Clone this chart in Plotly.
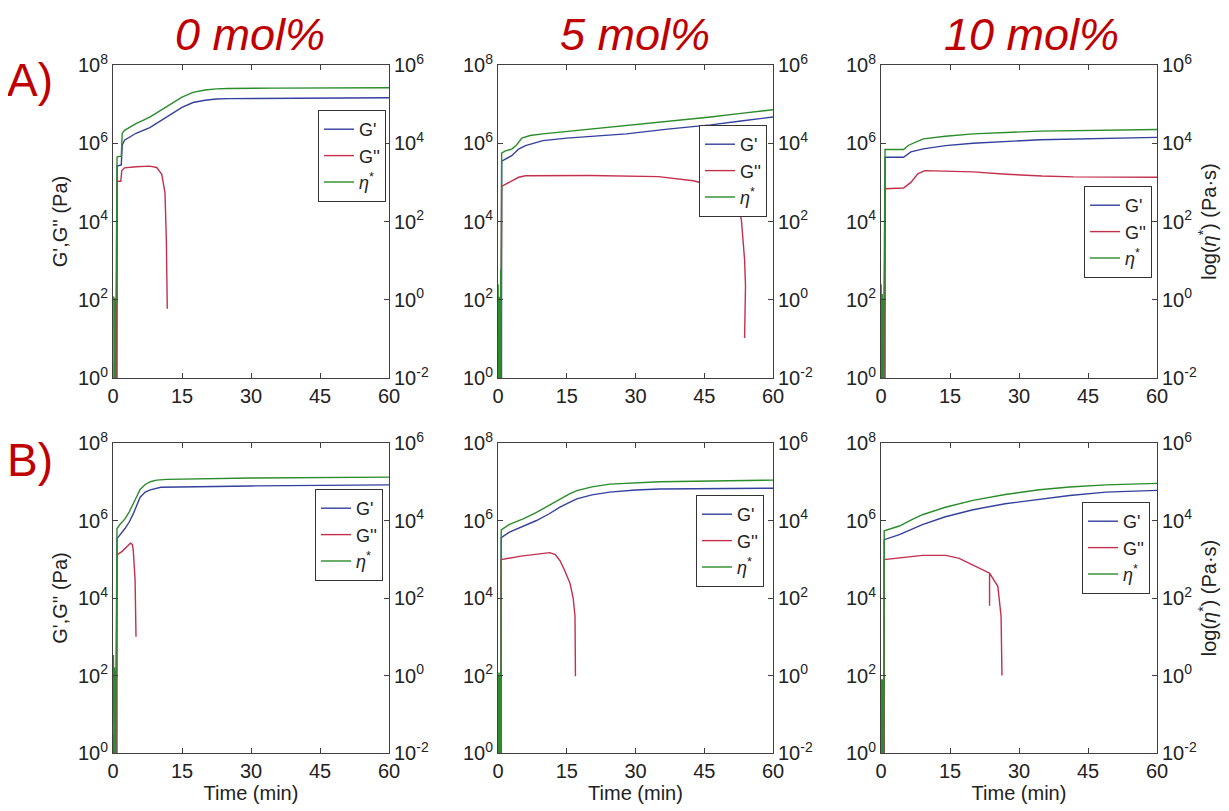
import plotly.graph_objects as go

# ---------------- data ----------------
panel_titles = ["0 mol%", "5 mol%", "10 mol%"]
row_labels = ["A)", "B)"]
x_ticks = [0, 15, 30, 45, 60]
left_ticks = [1e0, 1e2, 1e4, 1e6, 1e8]
left_ticktext = ["10<sup>0</sup>", "10<sup>2</sup>", "10<sup>4</sup>", "10<sup>6</sup>", "10<sup>8</sup>"]
right_ticks = [1e-2, 1e0, 1e2, 1e4, 1e6]
right_ticktext = ["10<sup>-2</sup>", "10<sup>0</sup>", "10<sup>2</sup>", "10<sup>4</sup>", "10<sup>6</sup>"]

# early noisy part of the signal (min)
noise_t = [0.02, 0.06, 0.10, 0.14, 0.18, 0.22, 0.26, 0.30, 0.34, 0.38, 0.42, 0.46, 0.50, 0.54, 0.58, 0.62, 0.66]

# ---- A) 0 mol% ----
a0_noise_eta = [1.1, 0.004, 0.9, 0.005, 1.2, 0.003, 0.8, 0.006, 1.0, 0.004, 1.1, 0.005, 0.9, 0.003, 1.0, 0.006, 0.8]
a0_noise_gpp = [0.3, 0.2, 0.3, 0.2, 0.3, 0.2, 0.3, 2.4, 0.2, 2.6, 0.3, 2.2, 0.2, 2.5, 0.3, 2.0, 0.3]
a0_eta_t = [0.88, 0.9, 1.8, 2.0, 2.5, 5, 8, 10, 12.4, 15, 17.4, 20, 22.5, 25, 35, 60]
a0_eta = [4400, 4470, 4680, 17800, 21400, 31600, 46800, 66100, 1.0e5, 1.51e5, 2.0e5, 2.29e5, 2.45e5, 2.51e5, 2.57e5, 2.63e5]
a0_gp_t = [0.86, 0.9, 1.8, 2.0, 2.5, 5, 8, 10, 12.4, 15, 17.4, 20, 22.5, 25, 60]
a0_gp = [0.5, 2.6e5, 2.8e5, 8.9e5, 1.2e6, 1.8e6, 2.5e6, 3.5e6, 5.5e6, 8.3e6, 1.1e7, 1.26e7, 1.35e7, 1.38e7, 1.45e7]
a0_gpp_t = [0.9, 1.7, 1.9, 2.5, 5, 8, 9.5, 10.6, 11.3, 11.6, 11.8]
a0_gpp = [1.07e5, 1.07e5, 2.0e5, 2.35e5, 2.5e5, 2.6e5, 2.4e5, 1.6e5, 5.5e4, 3.2e3, 59]

# ---- A) 5 mol% ----
a5_noise_eta = [2.5, 0.005, 1.8, 0.004, 1.5, 0.006, 1.2, 0.003, 1.0, 0.005, 0.8, 0.004, 1.0, 0.003, 5.9, 0.005, 0.6]
a5_noise_gpp = [4.0, 0.3, 3.8, 0.2, 4.2, 0.3, 3.5, 0.2, 4.0, 0.5, 3.6, 0.3, 4.1, 0.2, 3.9, 0.4, 3.7]
a5_eta_t = [0.8, 1.5, 3.0, 4.0, 5.2, 7, 9.8, 15, 20, 28, 37, 46.4, 53, 60]
a5_eta = [5600, 6300, 7100, 8900, 13500, 15800, 17400, 20000, 22900, 28000, 36000, 47000, 58000, 72000]
a5_gp_t = [0.76, 0.8, 3.0, 4.5, 6, 9.8, 15, 20, 28, 37, 46.4, 53, 60]
a5_gp = [0.5, 3.5e5, 4.8e5, 7.1e5, 8.7e5, 1.17e6, 1.35e6, 1.5e6, 1.74e6, 2.3e6, 2.95e6, 3.7e6, 4.7e6]
a5_gpp_t = [0.8, 3, 4.5, 6, 20, 35, 42.6, 49.9, 52, 52.6, 52.4, 53.1, 53.4, 53.2, 53.8, 54.0, 53.8]
a5_gpp = [7.9e4, 1.1e5, 1.35e5, 1.48e5, 1.5e5, 1.4e5, 1.1e5, 6.6e4, 3.6e4, 1.5e4, 2.5e4, 1.1e4, 4.0e3, 8.0e3, 1.07e3, 224, 10.5]

# ---- A) 10 mol% ----
a10_noise_eta = [2.5, 0.004, 1.6, 0.005, 1.2, 0.003, 1.4, 0.006, 1.0, 0.004, 1.3, 0.005, 1.1, 0.003, 0.9, 0.005, 1.2]
a10_noise_gpp = [0.3, 0.2, 2.6, 0.3, 2.8, 0.2, 2.5, 0.3, 2.7, 0.2, 2.4, 0.3, 2.8, 0.2, 2.6, 0.3, 2.5]
a10_eta_t = [0.88, 4.9, 6, 9.2, 14, 20, 34.6, 60]
a10_eta = [6900, 6900, 8900, 12900, 15100, 17400, 20400, 22400]
a10_gp_t = [0.86, 0.9, 4.9, 6.5, 9.2, 14, 20, 34.6, 60]
a10_gp = [0.5, 4.4e5, 4.4e5, 6.0e5, 7.2e5, 8.7e5, 1.0e6, 1.23e6, 1.41e6]
a10_gpp_t = [0.9, 4.9, 6.5, 8, 9.5, 20, 27.3, 35, 41.8, 60]
a10_gpp = [6.9e4, 7.2e4, 1.0e5, 1.66e5, 2.0e5, 1.86e5, 1.62e5, 1.45e5, 1.38e5, 1.35e5]

# ---- B) 0 mol% ----
b0_noise_eta = [1.5, 0.004, 3.4, 0.005, 2.0, 0.003, 1.2, 0.006, 1.6, 0.004, 1.0, 0.005, 1.3, 0.003, 0.9, 0.006, 1.1]
b0_noise_gpp = [0.3, 0.2, 3.0, 0.3, 2.8, 0.2, 3.1, 0.3, 2.6, 0.2, 2.9, 0.3, 3.0, 0.2, 2.7, 0.3, 2.8]
b0_eta_t = [0.87, 1.5, 2.6, 3.5, 4.4, 5.2, 5.9, 7.0, 8.1, 9.5, 11.7, 30, 60]
b0_eta = [6200, 7900, 11000, 16500, 27000, 44000, 63000, 85000, 1.0e5, 1.1e5, 1.15e5, 1.25e5, 1.32e5]
b0_gp_t = [0.85, 0.87, 2.6, 3.5, 4.4, 5.2, 5.9, 7.0, 8.1, 10.4, 30, 60]
b0_gp = [0.5, 3.4e5, 6.2e5, 9.0e5, 1.48e6, 2.6e6, 4.0e6, 5.4e6, 6.2e6, 7.2e6, 7.8e6, 8.3e6]
b0_gpp_t = [0.87, 2.0, 3.0, 3.8, 4.2, 4.4, 4.8, 5.0]
b0_gpp = [1.29e5, 1.6e5, 2.1e5, 2.6e5, 2.4e5, 1.74e5, 3.0e4, 1.0e3]

# ---- B) 5 mol% ----
b5_noise_eta = [1.2, 0.004, 0.9, 0.005, 1.1, 0.003, 0.8, 0.006, 1.0, 0.004, 1.2, 0.005, 0.7, 0.003, 0.9, 0.006, 0.8]
b5_noise_gpp = [0.3, 0.2, 0.3, 2.8, 0.2, 3.0, 0.3, 2.5, 0.2, 2.9, 0.3, 2.6, 0.2, 2.8, 0.3, 2.4, 0.3]
b5_eta_t = [0.7, 2.5, 5.5, 8.4, 11, 13.5, 15.5, 17.2, 20.5, 24.4, 30, 35.3, 60]
b5_eta = [5750, 7900, 11000, 16200, 24000, 36000, 48000, 59000, 74000, 87000, 95000, 1.0e5, 1.1e5]
b5_gp_t = [0.68, 0.7, 2.5, 5.5, 8.4, 11, 13.5, 15.5, 17.2, 20.5, 24.4, 30, 35.3, 60]
b5_gp = [0.5, 3.6e5, 5.0e5, 7.0e5, 1.0e6, 1.45e6, 2.2e6, 2.9e6, 3.6e6, 4.6e6, 5.4e6, 6.1e6, 6.5e6, 6.8e6]
b5_gpp_t = [0.7, 5, 11.3, 12.5, 13.5, 14.6, 15.7, 16.4, 16.8, 16.9]
b5_gpp = [9.8e4, 1.2e5, 1.48e5, 1.32e5, 9.3e4, 5.0e4, 2.4e4, 1.0e4, 3.4e3, 95]

# ---- B) 10 mol% ----
b10_noise_eta = [0.8, 0.004, 0.7, 0.005, 0.8, 0.003, 0.6, 0.006, 0.8, 0.004, 0.7, 0.005, 0.8, 0.003, 0.6, 0.006, 0.7]
b10_noise_gpp = [0.3, 0.2, 0.3, 2.2, 0.2, 2.5, 0.3, 2.4, 0.2, 2.6, 0.3, 2.3, 0.2, 2.5, 0.3, 2.2, 0.3]
b10_eta_t = [0.7, 4, 6.5, 9, 14, 20, 27, 34.4, 41, 48.9, 60]
b10_eta = [5400, 7200, 10200, 14100, 22000, 33000, 47000, 62000, 73000, 83000, 91000]
b10_gp_t = [0.68, 0.7, 4, 6.5, 9, 14, 20, 27, 34.4, 41, 48.9, 60]
b10_gp = [0.5, 3.2e5, 4.3e5, 5.8e5, 7.8e5, 1.25e6, 1.9e6, 2.7e6, 3.5e6, 4.4e6, 5.4e6, 6.0e6]
b10_gpp_t = [0.7, 9, 14.1, 17, 20, 23.6, 23.6, 23.6, 25.4, 26.1, 26.3]
b10_gpp = [9.8e4, 1.26e5, 1.26e5, 1.05e5, 7.1e4, 4.4e4, 6.3e3, 4.4e4, 2.0e4, 3.4e3, 100]

# ---------------- layout helpers ----------------
# the page body adds an 8 px offset; the figure is sized so it ends at the window edge
OFF = 8
W, H = 1229 - OFF, 811 - OFF


def px_x(p):
    return (p - OFF) / W


def px_y(p):
    return 1 - (p - OFF) / H


col_px = [(113, 389), (498, 773), (881, 1157)]
row_px = [(65, 378), (443, 753)]
legend_px = [(386, 110), (767, 125), (1152, 186), (383, 489), (764, 495), (1150, 502)]

C_GP = "#33409c"
C_GPP = "#c2304e"
C_ETA = "#2a8c2a"
AX_COL = "#404040"
TXT_COL = "#222222"
FONT = "Liberation Sans, Arial, sans-serif"

panels = [
    (a0_noise_eta, a0_noise_gpp, a0_eta_t, a0_eta, a0_gp_t, a0_gp, a0_gpp_t, a0_gpp),
    (a5_noise_eta, a5_noise_gpp, a5_eta_t, a5_eta, a5_gp_t, a5_gp, a5_gpp_t, a5_gpp),
    (a10_noise_eta, a10_noise_gpp, a10_eta_t, a10_eta, a10_gp_t, a10_gp, a10_gpp_t, a10_gpp),
    (b0_noise_eta, b0_noise_gpp, b0_eta_t, b0_eta, b0_gp_t, b0_gp, b0_gpp_t, b0_gpp),
    (b5_noise_eta, b5_noise_gpp, b5_eta_t, b5_eta, b5_gp_t, b5_gp, b5_gpp_t, b5_gpp),
    (b10_noise_eta, b10_noise_gpp, b10_eta_t, b10_eta, b10_gp_t, b10_gp, b10_gpp_t, b10_gpp),
]

fig = go.Figure()
layout = dict(
    width=W, height=H, autosize=False,
    margin=dict(l=0, r=0, t=0, b=0, pad=0, autoexpand=False),
    paper_bgcolor="white", plot_bgcolor="white",
    font=dict(family=FONT, size=20, color=TXT_COL),
    annotations=[],
)

for i, (n_eta, n_gpp, eta_t, eta, gp_t, gp, gpp_t, gpp) in enumerate(panels):
    r, c = divmod(i, 3)
    k = i + 1
    kr = i + 7
    xs = "" if k == 1 else str(k)
    leg = "legend" if k == 1 else f"legend{k}"

    fig.add_trace(go.Scatter(
        x=gp_t, y=gp, mode="lines", name="G'",
        line=dict(color=C_GP, width=1.4),
        xaxis=f"x{xs}", yaxis=f"y{xs}", legend=leg, showlegend=True))
    fig.add_trace(go.Scatter(
        x=noise_t + gpp_t, y=n_gpp + gpp, mode="lines", name="G''",
        line=dict(color=C_GPP, width=1.4),
        xaxis=f"x{xs}", yaxis=f"y{xs}", legend=leg, showlegend=True))
    fig.add_trace(go.Scatter(
        x=noise_t + eta_t, y=n_eta + eta, mode="lines", name="<i>η</i><sup>*</sup>",
        line=dict(color=C_ETA, width=1.4),
        xaxis=f"x{xs}", yaxis=f"y{kr}", legend=leg, showlegend=True))

    x0, x1 = col_px[c]
    top, bot = row_px[r]
    xdom = [px_x(x0), px_x(x1)]
    ydom = [px_y(bot), px_y(top)]

    layout[f"xaxis{xs}"] = dict(
        domain=xdom, anchor=f"y{xs}", range=[0, 60], automargin=False,
        tickvals=x_ticks, ticks="inside", ticklen=5, tickcolor=AX_COL,
        showline=True, linecolor=AX_COL, linewidth=1, mirror="ticks",
        showgrid=False, zeroline=False,
        tickfont=dict(size=20, color=TXT_COL),
        title=dict(text="Time (min)" if r == 1 else "", font=dict(size=20, color=TXT_COL), standoff=2),
    )
    layout[f"yaxis{xs}"] = dict(
        domain=ydom, anchor=f"x{xs}", type="log", range=[0, 8], automargin=False,
        tickvals=left_ticks, ticktext=left_ticktext,
        ticks="inside", ticklen=5, tickcolor=AX_COL,
        showline=True, linecolor=AX_COL, linewidth=1,
        showgrid=False, zeroline=False,
        tickfont=dict(size=20, color=TXT_COL),
        title=dict(text="G',G'' (Pa)" if c == 0 else "", font=dict(size=20, color=TXT_COL), standoff=4),
    )
    layout[f"yaxis{kr}"] = dict(
        overlaying=f"y{xs}", anchor=f"x{xs}", side="right", type="log", range=[-2, 6],
        automargin=False,
        tickvals=right_ticks, ticktext=right_ticktext,
        ticks="inside", ticklen=5, tickcolor=AX_COL,
        showline=True, linecolor=AX_COL, linewidth=1,
        showgrid=False, zeroline=False,
        tickfont=dict(size=20, color=TXT_COL),
        title=dict(text="log(<i>η</i><sup>*</sup>) (Pa·s)" if c == 2 else "",
                   font=dict(size=20, color=TXT_COL), standoff=6),
    )

    lx, ly = legend_px[i]
    layout[leg] = dict(
        x=px_x(lx), y=px_y(ly), xanchor="right", yanchor="top",
        xref="paper", yref="paper",
        bgcolor="white", bordercolor="#333333", borderwidth=1,
        font=dict(size=18, color=TXT_COL), itemwidth=30, tracegroupgap=0,
    )

title_x = [250, 635, 1031]
for t, cx in zip(panel_titles, title_x):
    layout["annotations"].append(dict(
        text=f"<i>{t}</i>", x=px_x(cx), y=px_y(34), xref="paper", yref="paper",
        xanchor="center", yanchor="middle", showarrow=False,
        font=dict(size=45, color="#c00000")))

for lab, cy in zip(row_labels, [80, 460]):
    layout["annotations"].append(dict(
        text=lab, x=px_x(5), y=px_y(cy), xref="paper", yref="paper",
        xanchor="left", yanchor="middle", showarrow=False,
        font=dict(size=46, color="#c00000")))

fig.update_layout(**layout)
fig.write_html("out.html")
